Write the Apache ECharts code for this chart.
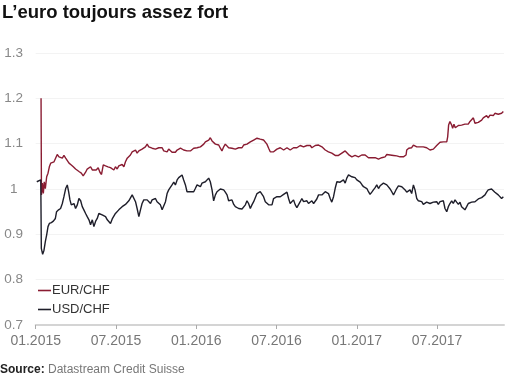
<!DOCTYPE html>
<html>
<head>
<meta charset="utf-8">
<script src="https://cdn.jsdelivr.net/npm/echarts@6/dist/echarts.min.js"></script>
<style>
html,body{margin:0;padding:0;background:#fff;}
#c{width:506px;height:375px;}
</style>
</head>
<body>
<div id="c"></div>
<script>
// x = months since 01.2015
const xTickMonths = [0, 6, 12, 18, 24, 30];
const xTickLabels = ['01.2015', '07.2015', '01.2016', '07.2016', '01.2017', '07.2017'];
const seriesNames = ['EUR/CHF', 'USD/CHF'];

const eurchf = [
[0.40,1.200],[0.43,0.987],[0.50,1.013],[0.57,0.990],[0.64,1.016],[0.72,1.001],[0.82,1.027],[0.92,1.035],[1.02,1.049],[1.12,1.057],[1.24,1.053],[1.37,1.060],[1.49,1.064],[1.61,1.076],[1.74,1.071],[1.86,1.075],[1.99,1.068],[2.11,1.074],[2.24,1.068],[2.36,1.064],[2.49,1.057],[2.66,1.053],[2.81,1.049],[2.98,1.044],[3.11,1.046],[3.26,1.038],[3.41,1.035],[3.55,1.029],[3.73,1.037],[3.85,1.044],[3.98,1.040],[4.10,1.049],[4.23,1.042],[4.35,1.046],[4.52,1.042],[4.67,1.047],[4.80,1.037],[4.92,1.032],[5.05,1.053],[5.22,1.051],[5.40,1.049],[5.59,1.047],[5.72,1.044],
[5.84,1.042],[5.96,1.049],[6.09,1.044],[6.21,1.051],[6.34,1.047],[6.46,1.054],[6.59,1.049],[6.71,1.060],[6.84,1.068],[6.96,1.064],[7.08,1.075],[7.21,1.082],[7.33,1.079],[7.46,1.086],[7.58,1.079],[7.71,1.084],[7.83,1.081],[7.95,1.088],[8.08,1.086],[8.20,1.093],[8.33,1.099],[8.45,1.093],[8.58,1.093],[8.70,1.090],[8.83,1.091],[8.95,1.088],[9.07,1.090],[9.20,1.091],[9.32,1.088],[9.45,1.091],[9.57,1.084],[9.70,1.086],[9.82,1.082],[9.94,1.088],[10.07,1.084],[10.19,1.081],[10.32,1.082],[10.44,1.081],[10.57,1.086],[10.69,1.088],[10.82,1.090],[10.94,1.090],[11.06,1.086],[11.19,1.088],[11.31,1.084],[11.44,1.082],[11.56,1.084],[11.69,1.086],
[11.81,1.090],[11.93,1.086],[12.06,1.091],[12.18,1.088],[12.31,1.093],[12.43,1.096],[12.56,1.099],[12.68,1.104],[12.81,1.101],[12.93,1.108],[13.05,1.113],[13.18,1.106],[13.30,1.104],[13.43,1.099],[13.55,1.101],[13.68,1.097],[13.80,1.090],[13.92,1.084],[14.05,1.093],[14.17,1.099],[14.30,1.097],[14.42,1.091],[14.55,1.093],[14.67,1.090],[14.80,1.090],[14.92,1.088],[15.04,1.090],[15.17,1.091],[15.29,1.093],[15.42,1.091],[15.54,1.097],[15.67,1.097],[15.79,1.099],[15.91,1.101],[16.04,1.104],[16.16,1.104],[16.29,1.108],[16.41,1.106],[16.54,1.112],[16.66,1.108],[16.78,1.110],[16.91,1.113],[17.03,1.108],[17.16,1.104],[17.28,1.099],[17.41,1.090],[17.53,1.082],[17.66,1.079],
[17.78,1.082],[17.90,1.086],[18.03,1.088],[18.15,1.086],[18.28,1.091],[18.40,1.090],[18.53,1.086],[18.65,1.088],[18.78,1.091],[18.90,1.088],[19.02,1.086],[19.15,1.090],[19.27,1.091],[19.40,1.093],[19.52,1.091],[19.65,1.093],[19.77,1.096],[19.89,1.097],[20.02,1.093],[20.14,1.096],[20.27,1.096],[20.39,1.093],[20.52,1.096],[20.64,1.091],[20.77,1.093],[20.89,1.096],[21.01,1.093],[21.14,1.097],[21.26,1.097],[21.39,1.093],[21.51,1.090],[21.64,1.086],[21.76,1.088],[21.88,1.082],[22.01,1.084],[22.13,1.079],[22.26,1.076],[22.38,1.074],[22.51,1.071],[22.63,1.074],[22.75,1.076],[22.88,1.079],[23.00,1.082],[23.13,1.084],[23.25,1.081],[23.38,1.076],[23.50,1.074],[23.63,1.071],
[23.75,1.075],[23.87,1.074],[24.00,1.075],[24.12,1.071],[24.25,1.074],[24.37,1.075],[24.50,1.074],[24.62,1.075],[24.75,1.071],[24.87,1.069],[24.99,1.071],[25.12,1.069],[25.24,1.068],[25.37,1.069],[25.49,1.068],[25.62,1.066],[25.74,1.068],[25.86,1.069],[25.99,1.068],[26.11,1.071],[26.24,1.076],[26.36,1.074],[26.49,1.075],[26.61,1.071],[26.74,1.074],[26.86,1.071],[26.98,1.073],[27.11,1.071],[27.23,1.071],[27.36,1.069],[27.48,1.071],[27.61,1.069],[27.68,1.075],[27.73,1.086],[27.81,1.084],[27.88,1.090],[27.98,1.088],[28.10,1.091],[28.23,1.097],[28.35,1.096],[28.48,1.093],[28.60,1.096],[28.73,1.093],[28.85,1.091],[28.97,1.093],[29.10,1.090],[29.22,1.091],[29.35,1.088],[29.47,1.086],[29.60,1.090],
[29.72,1.088],[29.84,1.091],[29.97,1.096],[30.09,1.099],[30.22,1.103],[30.34,1.101],[30.47,1.104],[30.59,1.103],[30.72,1.104],[30.79,1.115],[30.86,1.141],[30.96,1.149],[31.09,1.141],[31.16,1.134],[31.26,1.143],[31.36,1.135],[31.46,1.138],[31.59,1.140],[31.71,1.138],[31.83,1.141],[31.96,1.140],[32.08,1.143],[32.21,1.145],[32.33,1.143],[32.46,1.149],[32.58,1.147],[32.71,1.157],[32.83,1.145],[32.95,1.143],[33.08,1.147],[33.20,1.150],[33.33,1.152],[33.45,1.157],[33.58,1.154],[33.70,1.162],[33.82,1.157],[33.95,1.163],[34.07,1.165],[34.20,1.162],[34.32,1.167],[34.45,1.163],[34.57,1.165],[34.70,1.169],[34.82,1.167],[34.95,1.171]
];

const usdchf = [
[0.08,1.016],[0.38,1.020],[0.42,0.869],[0.52,0.856],[0.62,0.865],[0.72,0.884],[0.82,0.899],[0.92,0.917],[1.02,0.924],[1.17,0.926],[1.32,0.929],[1.47,0.935],[1.56,0.950],[1.71,0.954],[1.86,0.957],[1.99,0.968],[2.11,0.983],[2.24,1.001],[2.36,1.009],[2.46,0.994],[2.56,0.976],[2.66,0.965],[2.76,0.961],[2.86,0.968],[2.98,0.957],[3.11,0.965],[3.23,0.979],[3.36,0.974],[3.48,0.961],[3.60,0.954],[3.73,0.946],[3.85,0.939],[3.98,0.932],[4.10,0.921],[4.23,0.932],[4.35,0.917],[4.48,0.929],[4.60,0.935],[4.72,0.946],[4.85,0.950],[4.97,0.943],[5.10,0.946],[5.22,0.939],[5.35,0.932],[5.47,0.935],[5.59,0.924],[5.72,0.934],
[5.84,0.932],[5.96,0.946],[6.09,0.943],[6.21,0.954],[6.34,0.951],[6.46,0.961],[6.59,0.959],[6.71,0.966],[6.84,0.968],[6.96,0.974],[7.08,0.972],[7.21,0.987],[7.33,0.983],[7.46,0.972],[7.58,0.957],[7.71,0.939],[7.83,0.954],[7.95,0.968],[8.08,0.976],[8.20,0.972],[8.33,0.976],[8.45,0.972],[8.58,0.968],[8.70,0.976],[8.83,0.974],[8.95,0.979],[9.07,0.972],[9.20,0.976],[9.32,0.965],[9.45,0.954],[9.57,0.957],[9.70,0.972],[9.82,0.990],[9.94,0.998],[10.07,1.001],[10.19,1.009],[10.32,1.015],[10.44,1.009],[10.57,1.020],[10.69,1.025],[10.82,1.027],[10.94,1.031],[11.06,1.020],[11.19,1.009],[11.31,0.994],[11.44,0.990],[11.56,0.994],[11.69,0.998],
[11.81,0.994],[11.93,1.001],[12.06,1.009],[12.18,1.007],[12.31,1.005],[12.43,1.013],[12.56,1.010],[12.68,1.016],[12.81,1.020],[12.93,1.024],[13.05,1.016],[13.18,0.998],[13.30,0.974],[13.43,0.987],[13.55,0.994],[13.68,0.998],[13.80,1.000],[13.92,0.996],[14.05,0.998],[14.17,0.993],[14.30,0.987],[14.42,0.974],[14.55,0.972],[14.67,0.976],[14.80,0.966],[14.92,0.961],[15.04,0.959],[15.17,0.957],[15.29,0.961],[15.42,0.956],[15.54,0.954],[15.67,0.965],[15.79,0.974],[15.91,0.968],[16.04,0.957],[16.16,0.965],[16.29,0.972],[16.41,0.976],[16.54,0.990],[16.66,0.993],[16.78,0.994],[16.91,0.993],[17.03,0.983],[17.16,0.972],[17.28,0.968],[17.41,0.965],[17.53,0.968],[17.66,0.965],
[17.78,0.979],[17.90,0.976],[18.03,0.983],[18.15,0.979],[18.28,0.983],[18.40,0.987],[18.53,0.988],[18.65,0.990],[18.78,0.993],[18.90,0.979],[19.02,0.968],[19.15,0.972],[19.27,0.976],[19.40,0.965],[19.52,0.959],[19.65,0.961],[19.77,0.972],[19.89,0.979],[20.02,0.972],[20.14,0.976],[20.27,0.974],[20.39,0.968],[20.52,0.972],[20.64,0.974],[20.77,0.968],[20.89,0.972],[21.01,0.978],[21.14,0.987],[21.26,0.988],[21.39,0.987],[21.51,0.990],[21.64,0.994],[21.76,0.996],[21.88,0.990],[22.01,0.979],[22.13,0.971],[22.26,0.983],[22.38,1.001],[22.51,1.016],[22.63,1.020],[22.75,1.015],[22.88,1.018],[23.00,1.020],[23.13,1.013],[23.25,1.024],[23.38,1.031],[23.50,1.032],[23.63,1.027],
[23.75,1.031],[23.87,1.025],[24.00,1.020],[24.12,1.024],[24.25,1.015],[24.37,1.010],[24.50,1.005],[24.62,1.009],[24.75,1.001],[24.87,0.994],[24.99,0.988],[25.12,0.993],[25.24,0.998],[25.37,1.003],[25.49,1.009],[25.62,1.001],[25.74,1.007],[25.86,1.010],[25.99,1.013],[26.11,1.015],[26.24,1.009],[26.36,1.005],[26.49,1.000],[26.61,0.994],[26.74,0.987],[26.86,0.994],[26.98,1.001],[27.11,1.007],[27.23,1.009],[27.36,1.005],[27.48,1.001],[27.61,0.998],[27.73,0.993],[27.86,0.994],[27.98,0.998],[28.10,0.990],[28.23,1.009],[28.35,0.998],[28.48,0.979],[28.60,0.974],[28.73,0.971],[28.85,0.972],[28.97,0.966],[29.10,0.968],[29.22,0.971],[29.35,0.974],[29.47,0.968],[29.60,0.971],
[29.72,0.971],[29.84,0.968],[29.97,0.972],[30.09,0.966],[30.22,0.972],[30.34,0.968],[30.47,0.974],[30.59,0.957],[30.72,0.950],[30.84,0.961],[30.96,0.968],[31.09,0.974],[31.21,0.968],[31.34,0.976],[31.46,0.971],[31.59,0.966],[31.71,0.971],[31.83,0.961],[31.96,0.957],[32.08,0.954],[32.21,0.961],[32.33,0.968],[32.46,0.966],[32.58,0.971],[32.71,0.974],[32.83,0.972],[32.95,0.976],[33.08,0.978],[33.20,0.976],[33.33,0.981],[33.45,0.979],[33.58,0.987],[33.70,0.993],[33.82,0.998],[33.95,1.001],[34.07,1.000],[34.20,0.998],[34.32,0.993],[34.45,0.994],[34.57,0.987],[34.70,0.988],[34.82,0.979],[34.95,0.983]
];

const chart = echarts.init(document.getElementById('c'), null, {renderer: 'canvas'});
const labelFont = '"Liberation Sans", Arial, sans-serif';
chart.setOption({
  animation: false,
  backgroundColor: '#ffffff',
  title: {
    text: 'L’euro toujours assez fort',
    left: 2, top: 3, padding: 0,
    textStyle: {fontFamily: labelFont, fontSize: 18.5, fontWeight: 'bold', color: '#111'}
  },
  legend: {
    orient: 'vertical', left: 38, top: 284, padding: 0,
    itemWidth: 13, itemHeight: 1.6, itemGap: 6, icon: 'rect',
    data: seriesNames,
    textStyle: {fontFamily: labelFont, fontSize: 13, color: '#333', padding: [0,0,0,-4]}
  },
  grid: {left: 35.7, right: 2, top: 53, bottom: 50},
  xAxis: {
    type: 'value', min: 0, max: 35, interval: 6,
    axisLine: {show: true, lineStyle: {color: '#d4d4d4', width: 2}},
    axisTick: {show: true, length: 4, customValues: xTickMonths, lineStyle: {color: '#aaa', width: 1}},
    splitLine: {show: false},
    axisLabel: {
      customValues: xTickMonths, margin: 9,
      fontFamily: labelFont, fontSize: 14, color: '#777',
      formatter: function (v) { const i = xTickMonths.indexOf(v); return i >= 0 ? xTickLabels[i] : ''; }
    }
  },
  yAxis: {
    type: 'value', min: 0.7, max: 1.3, interval: 0.1,
    axisLine: {show: false}, axisTick: {show: false},
    splitLine: {show: true, lineStyle: {color: '#f3f3f3', width: 1}},
    axisLabel: {
      margin: 22, align: 'center',
      fontFamily: labelFont, fontSize: 13.5, color: '#888',
      formatter: function (v) { return String(Math.round(v * 10) / 10); }
    }
  },
  graphic: [{
    type: 'text', left: 0, top: 364,
    style: {
      text: '{b|Source:} {n|Datastream Credit Suisse}',
      rich: {
        b: {fontFamily: labelFont, fontSize: 12, fontWeight: 'bold', fill: '#222'},
        n: {fontFamily: labelFont, fontSize: 12, fill: '#777'}
      }
    }
  }],
  series: [
    {name: seriesNames[0], type: 'line', data: eurchf, showSymbol: false, color: '#8a1c32', lineStyle: {width: 1.4, color: '#8a1c32'}},
    {name: seriesNames[1], type: 'line', data: usdchf, showSymbol: false, color: '#1e1e2a', lineStyle: {width: 1.4, color: '#1e1e2a'}}
  ]
});
</script>
</body>
</html>
